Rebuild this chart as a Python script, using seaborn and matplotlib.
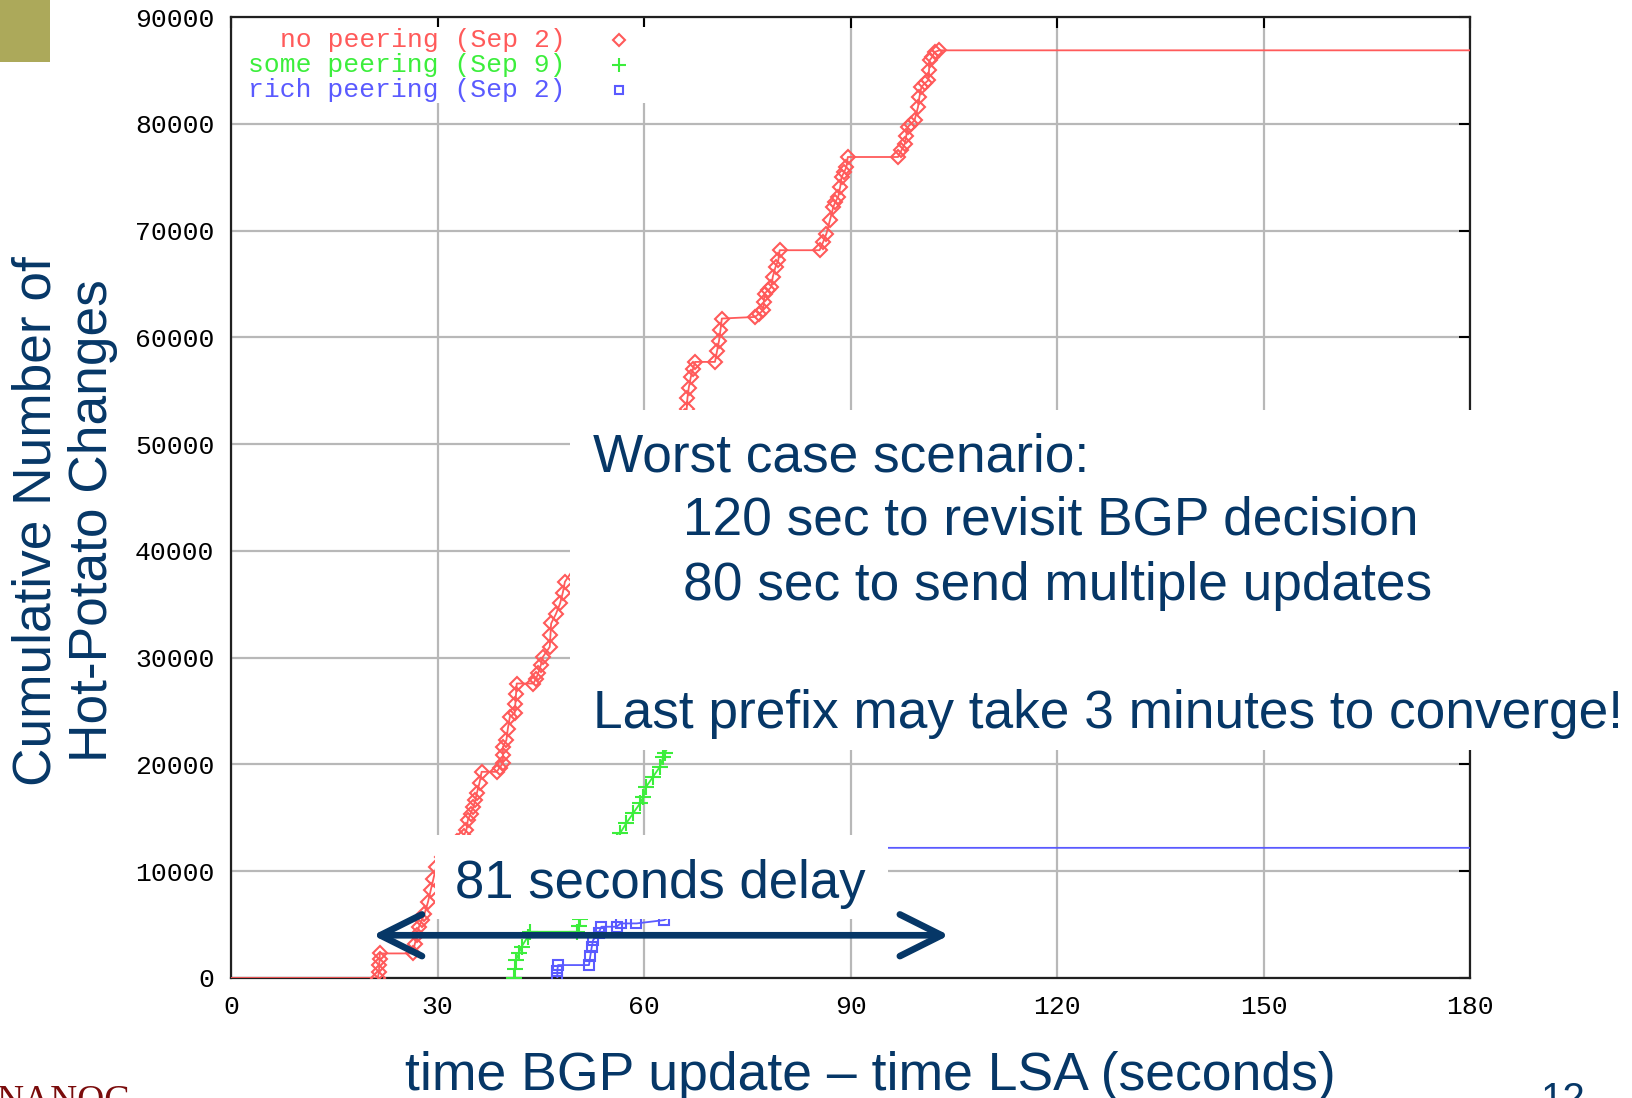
import numpy as np
import matplotlib
matplotlib.use("Agg")
import matplotlib.pyplot as plt
from matplotlib.patches import Rectangle, FancyArrowPatch
import seaborn as sns

# cumulative hot-potato changes vs. (time BGP update - time LSA)
no_x = [0, 21.3, 21.5, 21.5, 21.6, 21.6, 26.4, 26.7, 27.0, 27.3, 27.7, 28.1, 28.6, 29.0, 29.4, 29.8,
        30.6, 31.6, 32.8, 33.8, 34.2, 34.4, 34.8, 35.2, 35.5, 35.7, 36.1, 36.4, 38.6, 39.0, 39.5,
        39.5, 39.5, 40.0, 40.2, 40.5, 41.2, 41.3, 41.4, 41.5, 43.9, 44.3, 44.6, 45.0, 45.3, 46.3,
        46.4, 46.5, 47.2, 47.8, 48.2, 48.5, 52.0, 56.0, 60.0, 63.5, 66.0, 66.2, 66.3, 66.5, 66.8,
        67.1, 67.4, 70.3, 70.6, 70.9, 71.1, 71.3, 76.1, 76.7, 77.3, 77.4, 77.5, 78.0, 78.5, 78.7,
        79.1, 79.5, 79.7, 85.5, 86.0, 86.5, 87.0, 87.5, 87.8, 88.2, 88.5, 88.7, 89.1, 89.4, 89.6,
        96.9, 97.4, 97.9, 98.1, 98.3, 98.8, 99.3, 99.8, 100.0, 100.3, 100.8, 101.3, 101.4, 101.5,
        101.9, 102.2, 102.9, 180]
no_y = [0, 0, 600, 1200, 1800, 2300, 2300, 3200, 4000, 4800, 5400, 6000, 7100, 8200, 9300, 10400,
        11300, 12100, 12800, 13300, 13900, 14780, 15400, 16030, 16700, 17290, 18300, 19310, 19310, 19700, 20090,
        20900, 21650, 22280, 23300, 24460, 24780, 25700, 26600, 27580, 27580, 28000, 28520, 29300, 30070, 31010,
        32100, 33200, 34100, 35080, 36100, 37100, 40500, 44000, 47500, 50500, 52600, 53330, 54300, 55300, 56300,
        57000, 57700, 57700, 58700, 59700, 60700, 61760, 61910, 62200, 62540, 63300, 64100, 64400, 64720, 65660,
        66590, 67220, 68160, 68160, 68900, 69720, 70960, 72210, 72700, 73150, 74100, 75020, 75500, 75960, 76890,
        76890, 77520, 78150, 78900, 79700, 80000, 80330, 81570, 82500, 83450, 83800, 84070, 85000, 85950,
        86300, 86720, 86880, 86880]

some_x = [41.1, 41.2, 41.4, 41.8, 42.2, 43.1, 43.4, 50.3, 50.5, 50.7, 52.0, 53.5, 55.0, 56.0, 56.5,
          57.4, 58.4, 59.4, 59.9, 60.3, 61.3, 62.3, 62.8, 63.0, 65.0, 68.0, 180]
some_y = [0, 800, 1680, 2300, 2920, 3860, 4330, 4330, 4900, 5500, 7500, 9500, 11500, 12800, 13540,
          14480, 15410, 16350, 16970, 17900, 18840, 19780, 20710, 21050, 23500, 25000, 25000]

rich_x = [47.4, 47.4, 47.5, 52.0, 52.2, 52.4, 52.6, 53.4, 53.8, 56.0, 56.6, 58.9, 62.9, 66.0, 72.0,
          80.0, 88.0, 92.0, 180]
rich_y = [0, 700, 1210, 1210, 2100, 2900, 3550, 4200, 4800, 4800, 5110, 5110, 5420, 6500, 8000,
          10000, 11500, 12190, 12190]

labels = ["no peering (Sep 2)", "some peering (Sep 9)", "rich peering (Sep 2)"]
colors = ["#ff5a5a", "#3cee3c", "#5a5aff"]
x_ticks = [0, 30, 60, 90, 120, 150, 180]
y_ticks = list(range(0, 90001, 10000))
delay_from, delay_to, delay_level = 20.6, 104.3, 4000

navy = "#063767"
mono = "Liberation Mono"

sns.set_style("white")
plt.rcParams["font.family"] = ["Liberation Sans", "DejaVu Sans"]

fig = plt.figure(figsize=(16.33, 10.98), dpi=100)
ax = fig.add_axes([0.1415, 0.1093, 0.7587, 0.8752])

series = [(no_x, no_y, "D", 7.5, slice(1, -1)),
          (some_x, some_y, "+", 11, slice(0, -1)),
          (rich_x, rich_y, "s", 7, slice(0, -1))]
for (xs, ys, mk, ms, every), col in zip(series, colors):
    sns.lineplot(x=xs, y=ys, ax=ax, sort=False, estimator=None, color=col, lw=1.3,
                 marker=mk, markersize=ms, markevery=every, markerfacecolor="none",
                 markeredgecolor=col, markeredgewidth=1.5, zorder=3)

ax.set_xlim(0, 180)
ax.set_ylim(0, 90000)
ax.set_xticks(x_ticks)
ax.set_yticks(y_ticks)
ax.grid(True, color="#b8b8b8", lw=1.6)
ax.set_axisbelow(True)
ax.tick_params(direction="in", length=8, width=1.5, top=True, right=True,
               labelsize=19, pad=12, colors="black")
for lab in ax.get_xticklabels() + ax.get_yticklabels():
    lab.set_family(mono)
for sp in ax.spines.values():
    sp.set_color("#202020")
    sp.set_linewidth(1.6)
ax.set_xlabel("")
ax.set_ylabel("")

# gnuplot style key, top left
ax.add_patch(Rectangle((0.002, 0.911), 0.36, 0.079, transform=ax.transAxes,
                       facecolor="white", edgecolor="none", zorder=2))
for i, (lab, col, (_, _, mk, ms, _)) in enumerate(zip(labels, colors, series)):
    yy = 0.9765 - i * 0.026
    ax.text(0.2698, yy, lab, transform=ax.transAxes, ha="right", va="center",
            color=col, fontsize=19, family=mono, zorder=4)
    ax.plot([0.3135], [yy], transform=ax.transAxes, marker=mk, ms=ms - 1, mfc="none",
            mec=col, mew=1.5, ls="none", zorder=4)

# slide overlays
fig.patches.append(Rectangle((0.0, 0.9435), 0.0306, 0.0565, transform=fig.transFigure,
                             facecolor="#aca95a", edgecolor="none", zorder=5))
fig.patches.append(Rectangle((0.349, 0.3169), 0.651, 0.3097, transform=fig.transFigure,
                             facecolor="white", edgecolor="none", zorder=5))
fig.patches.append(Rectangle((0.2664, 0.1630), 0.2774, 0.0765, transform=fig.transFigure,
                             facecolor="white", edgecolor="none", zorder=5))

big = 38.3
fig.text(0.3630, 0.5704, "Worst case scenario:", fontsize=big, color=navy, va="baseline", zorder=6)
fig.text(0.4180, 0.5128, "120 sec to revisit BGP decision", fontsize=big, color=navy, va="baseline", zorder=6)
fig.text(0.4180, 0.4536, "80 sec to send multiple updates", fontsize=big, color=navy, va="baseline", zorder=6)
fig.text(0.3630, 0.3367, "Last prefix may take 3 minutes to converge!", fontsize=big, color=navy,
         va="baseline", zorder=6)
fig.text(0.2784, 0.1819, "81 seconds delay", fontsize=38, color=navy, va="baseline", zorder=6)

arrow = FancyArrowPatch((delay_from, delay_level), (delay_to, delay_level), transform=ax.transData,
                        arrowstyle="<->,head_length=3.0,head_width=1.5", mutation_scale=10,
                        lw=4.8, color=navy, shrinkA=0, shrinkB=0, zorder=7)
fig.add_artist(arrow)

fig.text(0.0396, 0.5255, "Cumulative Number of\nHot-Potato Changes", rotation=90, fontsize=38.3,
         color=navy, ha="center", va="center", multialignment="center", linespacing=1.18, zorder=6)
fig.text(0.5331, 0.0077, "time BGP update \u2013 time LSA (seconds)", fontsize=38.5, color=navy,
         ha="center", va="baseline", zorder=6)
fig.text(-0.002, -0.012, "NANOG", fontsize=27, color="#7a0c0c", family="Liberation Serif",
         va="baseline", zorder=6)
fig.text(0.9435, -0.012, "12", fontsize=29, color=navy, va="baseline", zorder=6)

fig.savefig("out.png", dpi=100)
